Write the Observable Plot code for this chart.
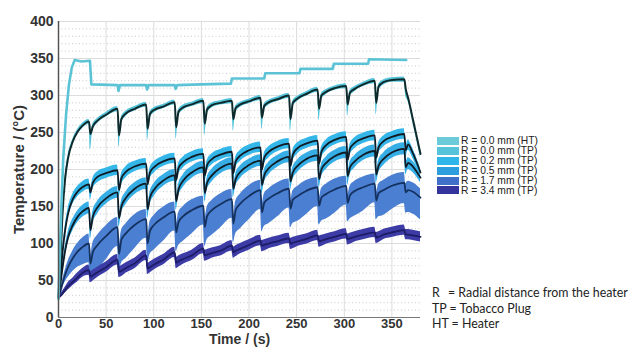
<!DOCTYPE html>
<html><head><meta charset="utf-8">
<script src="https://cdn.jsdelivr.net/npm/d3@7"></script>
<script src="https://cdn.jsdelivr.net/npm/@observablehq/plot@0.6"></script>
<style>
body{margin:0;background:#fff;}
#wrap{position:relative;width:630px;height:349px;font-family:"Liberation Sans",Arial,sans-serif;}
#legend{position:absolute;left:437px;top:136px;font-size:10.3px;color:#222;}
.row{display:flex;align-items:center;height:9.9px;white-space:nowrap;}
.sw{width:22px;height:8px;margin-right:2px;}
#notes{position:absolute;left:432px;top:285px;font-family:Lato,sans-serif;font-size:12.4px;color:#222;line-height:15.5px;white-space:nowrap;}
#notes .k{display:inline-block;width:16px;}
</style></head><body><div id="wrap"></div>
<script>
// ---- data ----
const xTicks = [0,50,100,150,200,250,300,350];
const yTicks = [0,50,100,150,200,250,300,350,400];
const yMinor = [10,20,30,40,60,70,80,90,110,120,130,140,160,170,180,190,210,220,230,240,260,270,280,290,310,320,330,340,360,370,380,390];

const legendLabels = ["R = 0.0 mm (HT)","R = 0.0 mm (TP)","R = 0.2 mm (TP)","R = 0.5 mm (TP)","R = 1.7 mm (TP)","R = 3.4 mm (TP)"];

// heater (HT) trace
const htTime = [0,1.5,3,5,8,11,14,17,24,33,34.5,62,63,64.5,92,93,94.5,122,123,124.5,150,181,182,216,217,253,254,288,289,325,326,365];
const htTemp = [25,90,150,215,275,315,338,348,346,347,315,314,306,314,314,308,314,314,309,314,315,316,323,323,330,330,336,336,343,343,349,348];

// common time grid for tobacco-plug traces
const time = [0,2,4,7,10,15,20,25,
32,33.5,36,41,50,
62,63.5,66,71,80,
92,93.5,96,101,110,
122,123.5,126,131,140,
152,153.5,156,161,170,
182,183.5,186,191,200,
212,213.5,216,221,230,
242,243.5,246,251,260,
272,273.5,276,281,290,
302,303.5,306,311,320,
332,333.5,336,341,350,
363,364.5,367,372,380];

const tp00 = [28,75,135,188,215,238,251,259,
265,248,258,266,274,
282,246,268,276,282,
288,255,275,281,285,
291,257,278,284,288,
293,262,281,287,290,
293,268,283,288,292,
297,270,286,291,295,
300,268,290,296,302,
308,282,300,305,310,
313,288,304,309,315,
320,290,312,318,321,
322,309,297,268,221];
const tp00Up = [1,3,4,4,4,3,3,3, 3,3,3,3,3, 3,3,3,3,3, 3,3,3,3,3, 3,3,3,3,3, 3,3,3,3,3, 3,3,3,3,3, 3,3,3,3,3, 3,3,3,3,3, 3,3,3,3,3, 3,3,3,3,3, 3,3,3,3,3, 3,3,3,3,3];
const tp00Dn = [1,4,6,6,5,4,4,4, 4,22,6,4,3, 4,16,6,4,3, 4,16,6,4,3, 4,16,6,4,3, 4,16,6,4,3, 4,16,6,4,3, 4,16,6,4,3, 4,16,6,4,3, 4,16,6,4,3, 4,16,6,4,3, 4,16,6,4,3, 4,10,5,5,5];

const tp02 = [28,55,85,118,140,160,170,176,
180,169,182,190,195,
199,172,188,197,204,
208,180,196,204,211,
215,186,202,210,217,
221,192,206,214,220,
224,195,211,219,226,
230,200,216,224,231,
235,205,220,229,235,
239,208,224,233,240,
244,213,228,236,242,
246,216,230,238,244,
248,226,234,222,196];
const tp02Up = [1,3,5,6,7,7,7,7, 7,5,6,7,7, 7,5,6,7,7, 7,5,6,7,7, 7,5,6,7,7, 7,5,6,7,7, 7,5,6,7,7, 7,5,6,7,7, 7,5,6,7,7, 7,5,6,7,7, 7,5,6,7,7, 7,5,6,7,7, 7,5,6,6,5];
const tp02Dn = [1,3,5,6,7,7,7,7, 7,10,9,8,7, 7,10,9,8,7, 7,10,9,8,7, 7,10,9,8,7, 7,10,9,8,7, 7,10,9,8,7, 7,10,9,8,7, 7,10,9,8,7, 7,10,9,8,7, 7,10,9,8,7, 7,10,9,8,7, 7,10,8,7,6];

const tp05 = [28,45,65,90,108,125,136,143,
148,118,136,149,161,
169,134,150,162,174,
181,146,162,174,185,
192,157,173,185,196,
203,168,182,192,202,
208,174,187,197,206,
212,179,192,202,211,
217,184,196,205,214,
219,187,200,209,218,
223,191,203,211,220,
225,193,205,214,223,
228,203,209,204,189];
const tp05Up = [1,3,5,6,7,8,8,8, 8,6,7,8,8, 8,6,7,8,8, 8,6,7,8,8, 8,6,7,8,8, 8,6,7,8,8, 8,6,7,8,8, 8,6,7,8,8, 8,6,7,8,8, 8,6,7,8,8, 8,6,7,8,8, 8,6,7,8,8, 8,6,7,7,6];
const tp05Dn = [1,3,5,6,7,8,8,8, 8,12,10,9,8, 8,12,10,9,8, 8,12,10,9,8, 8,12,10,9,8, 8,12,10,9,8, 8,12,10,9,8, 8,12,10,9,8, 8,12,10,9,8, 8,12,10,9,8, 8,12,10,9,8, 8,12,10,9,8, 8,10,9,8,7];

const tp17 = [28,35,45,58,68,80,89,95,
100,73,88,98,110,
122,86,105,114,125,
133,100,117,126,135,
143,115,129,137,145,
151,122,137,145,153,
160,127,145,154,164,
172,142,155,161,168,
174,147,159,164,171,
176,151,162,167,173,
178,155,165,171,176,
181,158,168,172,178,
182,169,172,170,162];
const tp17Up = [1,2,4,6,8,10,11,12, 13,10,12,13,14, 13,10,12,13,14, 13,10,12,13,14, 13,10,12,13,14, 13,10,12,13,14, 13,10,12,13,14, 13,10,12,13,14, 13,10,12,13,14, 13,10,12,13,14, 13,10,12,13,14, 13,10,12,13,14, 14,12,12,12,12];
const tp17Dn = [1,3,6,10,14,18,21,24, 26,26,32,34,32, 26,26,32,34,32, 26,26,32,34,32, 26,26,32,34,32, 26,26,32,34,32, 26,26,32,34,32, 26,26,32,34,32, 26,26,32,34,32, 26,26,32,34,32, 26,26,32,34,32, 26,26,32,34,32, 28,28,30,30,30];

const tp34 = [27,29,32,37,42,48,54,60,
64,55,57,61,68,
78,62,63,67,73,
84,66,68,72,78,
88,74,76,79,84,
93,84,85,87,90,
97,88,90,93,98,
104,97,98,100,103,
107,100,101,103,106,
111,103,104,106,109,
113,106,107,109,112,
115,108,109,112,115,
118,112,112,111,109];
const tp34Up = [1,2,3,4,5,5,6,6, 7,7,7,7,7, 7,7,7,7,7, 7,7,7,7,7, 7,7,7,7,7, 7,7,7,7,7, 7,7,7,7,7, 7,7,7,7,7, 7,7,7,7,7, 7,7,7,7,7, 7,7,7,7,7, 7,7,7,7,7, 7,7,7,7,7];
const tp34Dn = [1,2,3,4,5,5,6,6, 7,8,8,7,7, 7,8,8,7,7, 7,8,8,7,7, 7,8,8,7,7, 7,8,8,7,7, 7,8,8,7,7, 7,8,8,7,7, 7,8,8,7,7, 7,8,8,7,7, 7,8,8,7,7, 7,8,8,7,7, 7,7,7,7,7];

// ---- styling ----
const swatch = ["#6ccbd9","#55c4da","#2fb5e7","#2c9edd","#3f70c7","#33359c"];
const bandColor = {tp00:"#55c4da", tp02:"#34b6e8", tp05:"#36aee5", tp17:"#4a7fd2", tp34:"#3d3ca6"};

function series(vals, up, dn) {
  return time.map((t, i) => ({t, v: vals[i], lo: vals[i] - dn[i], hi: vals[i] + up[i]}));
}
const s00 = series(tp00, tp00Up, tp00Dn);
const s02 = series(tp02, tp02Up, tp02Dn);
const s05 = series(tp05, tp05Up, tp05Dn);
const s17 = series(tp17, tp17Up, tp17Dn);
const s34 = series(tp34, tp34Up, tp34Dn);
const ht = htTime.map((t, i) => ({t, v: htTemp[i]}));

const curve = "monotone-x";
const band = (d, c) => Plot.areaY(d, {x: "t", y1: "lo", y2: "hi", fill: c, curve});
const line = (d, c, w) => Plot.lineY(d, {x: "t", y: "v", stroke: c, strokeWidth: w, curve});

const chart = Plot.plot({
  width: 630, height: 349,
  marginLeft: 58, marginRight: 210, marginTop: 21, marginBottom: 32,
  style: {fontFamily: "Liberation Sans, Arial, sans-serif", fontSize: "14px", fontWeight: "bold", color: "#333", background: "#fff"},
  x: {domain: [0, 380]},
  y: {domain: [0, 400]},
  marks: [
    Plot.ruleY(yMinor, {stroke: "#bdbdbd", strokeDasharray: "1,2.5", strokeWidth: 0.8}),
    Plot.ruleY(yTicks, {stroke: "#dcdcdc"}),
    Plot.ruleX(xTicks.filter(d => d > 0), {stroke: "#dcdcdc"}),
    band(s17, bandColor.tp17),
    band(s34, bandColor.tp34),
    band(s05, bandColor.tp05),
    band(s02, bandColor.tp02),
    band(s00, bandColor.tp00),
    line(s34, "#1d1c66", 1.8),
    line(s17, "#14315f", 1.8),
    line(s05, "#0f1c26", 1.8),
    line(s02, "#0f1c26", 1.8),
    line(s00, "#0f2a2c", 2),
    Plot.lineY(ht, {x: "t", y: "v", stroke: "#5cc3d6", strokeWidth: 2.6}),
    Plot.ruleX([0], {stroke: "#555", strokeWidth: 1.5}),
    Plot.ruleY([0], {stroke: "#777", strokeWidth: 1.2}),
    Plot.axisX({ticks: xTicks, tickSize: 0, tickPadding: 1, label: null, fontSize: 13, fontWeight: "bold"}),
    Plot.axisY({ticks: yTicks, tickSize: 0, tickPadding: 5, label: null, fontSize: 14, fontWeight: "bold"}),
    Plot.text(["Time / (s)"], {frameAnchor: "bottom", dy: 26.5, fontSize: 14, fontWeight: "bold", fill: "#333"}),
    Plot.text(["Temperature / (°C)"], {frameAnchor: "left", dx: -39, rotate: -90, textAnchor: "middle", lineAnchor: "middle", fontSize: 15, fontWeight: "bold", fill: "#333"})
  ]
});
const wrap = document.getElementById("wrap");
wrap.appendChild(chart);

const leg = document.createElement("div");
leg.id = "legend";
legendLabels.forEach((lab, i) => {
  const r = document.createElement("div"); r.className = "row";
  const s = document.createElement("div"); s.className = "sw"; s.style.background = swatch[i];
  const t = document.createElement("span"); t.textContent = lab;
  r.appendChild(s); r.appendChild(t); leg.appendChild(r);
});
wrap.appendChild(leg);

const notes = document.createElement("div");
notes.id = "notes";
notes.innerHTML = '<div><span class="k">R</span>= Radial distance from the heater</div><div>TP = Tobacco Plug</div><div>HT = Heater</div>';
wrap.appendChild(notes);
</script></body></html>
